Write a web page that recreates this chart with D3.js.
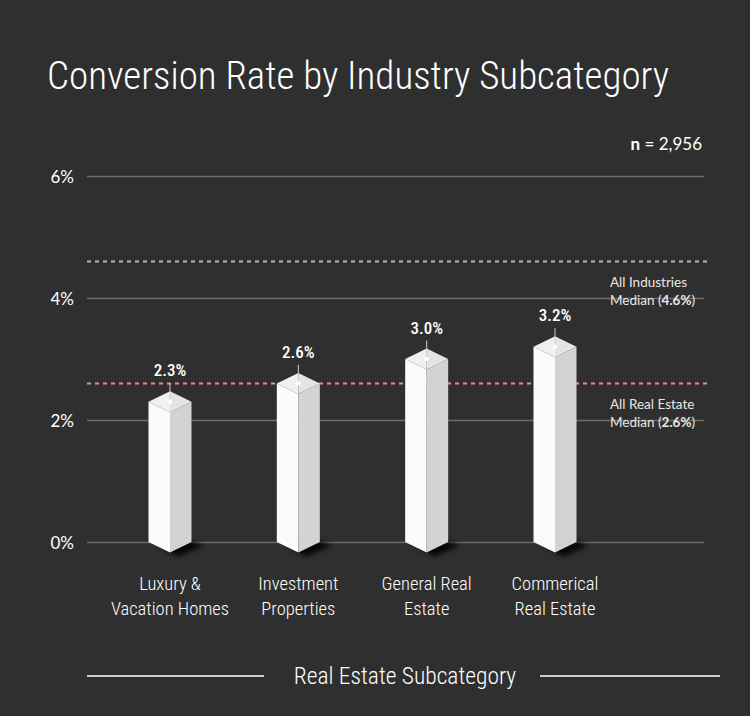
<!DOCTYPE html>
<html>
<head>
<meta charset="utf-8">
<script src="https://cdn.jsdelivr.net/npm/d3@7"></script>
<style>
  body { margin: 0; background: #2f2f2f; }
  svg { display: block; }
</style>
</head>
<body>
<svg id="chart"></svg>
<script>
// data
var categories = ["Luxury & Vacation Homes", "Investment Properties", "General Real Estate", "Commerical Real Estate"]
var catLines = [["Luxury &", "Vacation Homes"], ["Investment", "Properties"], ["General Real", "Estate"], ["Commerical", "Real Estate"]]
var rates = [2.3, 2.6, 3.0, 3.2]
var yTicks = [0, 2, 4, 6]
var medians = [
    {name: "All Industries", value: 4.6},
    {name: "All Real Estate", value: 2.6}
]
var sampleSize = "2,956"

var dims = {
    width: 750,
    height: 716,
    margin: {top: 176, bottom: 174, left: 87, right: 46},
    barHalf: 21.5,
    capHalf: 10.5
}

var condensed = "'Roboto Condensed', 'Liberation Sans Narrow', 'DejaVu Sans Condensed', Roboto, sans-serif"
var plain = "'Source Sans Pro', Lato, 'Open Sans', sans-serif"

var svg = d3.select("#chart")
    .attr("width", dims.width)
    .attr("height", dims.height)

var defs = svg.append("defs")
defs.append("filter").attr("id", "blur")
    .attr("x", "-50%").attr("y", "-50%").attr("width", "200%").attr("height", "200%")
    .append("feGaussianBlur").attr("stdDeviation", 2.5)

var yScale = d3.scaleLinear()
    .domain([0, 6])
    .range([dims.height - dims.margin.bottom, dims.margin.top])

var xScale = d3.scalePoint()
    .domain(categories)
    .range([170, 555])

// title
svg.append("text")
    .attr("x", 47).attr("y", 89)
    .attr("fill", "#ffffff")
    .style("font-family", condensed)
    .style("font-weight", 300)
    .style("font-size", "38px")
    .attr("textLength", 622)
    .attr("lengthAdjust", "spacingAndGlyphs")
    .text("Conversion Rate by Industry Subcategory")

// n label
var nText = svg.append("text")
    .attr("x", 702).attr("y", 150)
    .attr("text-anchor", "end")
    .attr("fill", "#ffffff")
    .style("font-family", plain)
    .style("font-size", "17px")
nText.append("tspan").style("font-weight", 700).text("n")
nText.append("tspan").text(" = " + sampleSize)

// grid + y axis
var yAxisGen = d3.axisLeft(yScale)
    .tickValues(yTicks)
    .tickFormat(d => d + "%")
    .tickSize(-(dims.width - dims.margin.left - dims.margin.right))
    .tickPadding(13)

var yAxis = svg.append("g")
    .attr("transform", `translate(${dims.margin.left},0)`)
    .call(yAxisGen)
yAxis.select(".domain").remove()
yAxis.selectAll("line").attr("stroke", "#6b6b6b").attr("stroke-width", 1.5)
yAxis.selectAll("text")
    .attr("fill", "#ffffff")
    .attr("dy", "0.4em")
    .style("font-family", plain)
    .style("font-size", "17px")

// median lines
var medColors = ["#b8b8b8", "#f28b8b"]
svg.append("g").selectAll("line")
    .data(medians)
    .enter()
    .append("line")
    .attr("x1", dims.margin.left)
    .attr("x2", 707)
    .attr("y1", d => yScale(d.value))
    .attr("y2", d => yScale(d.value))
    .attr("stroke", (d, i) => medColors[i])
    .attr("stroke-width", 2)
    .attr("stroke-dasharray", "4 4")

var medLabels = svg.append("g").selectAll("text")
    .data(medians)
    .enter()
    .append("text")
    .attr("x", 610)
    .attr("y", d => yScale(d.value) + 26)
    .attr("fill", "#e8e8e8")
    .style("font-family", plain)
    .style("font-size", "13.5px")
medLabels.append("tspan").text(d => d.name)
var second = medLabels.append("tspan")
    .attr("x", 610).attr("dy", 18)
second.append("tspan").text("Median (")
second.append("tspan").style("font-weight", 700).text(d => d.value + "%")
second.append("tspan").text(")")

// bars
var bars = svg.append("g").selectAll("g")
    .data(rates)
    .enter()
    .append("g")
    .attr("transform", (d, i) => `translate(${xScale(categories[i])},0)`)

var w = dims.barHalf, h = dims.capHalf, y0 = yScale(0)

// shadow
bars.append("path")
    .attr("d", `M${-w + 8},${y0 + 2} L${8},${y0 - h + 6} L${w + 12},${y0 + 3} L${8},${y0 + h + 4} Z`)
    .attr("fill", "#000")
    .attr("opacity", 0.9)
    .attr("filter", "url(#blur)")

// left face
bars.append("path")
    .attr("d", d => `M${-w},${yScale(d)} L0,${yScale(d) + h} L0,${y0 + h} L${-w},${y0} Z`)
    .attr("fill", "#fbfbfb")
// right face
bars.append("path")
    .attr("d", d => `M0,${yScale(d) + h} L${w},${yScale(d)} L${w},${y0} L0,${y0 + h} Z`)
    .attr("fill", "#d3d3d3")
// top
bars.append("path")
    .attr("d", d => `M${-w},${yScale(d)} L0,${yScale(d) - h} L0,${yScale(d) + h} Z`)
    .attr("fill", "#f0f0f0")
bars.append("path")
    .attr("d", d => `M0,${yScale(d) - h} L${w},${yScale(d)} L0,${yScale(d) + h} Z`)
    .attr("fill", "#e4e4e4")

// pointer
bars.append("line")
    .attr("x1", 0).attr("x2", 0)
    .attr("y1", d => yScale(d) - h - 8)
    .attr("y2", d => yScale(d))
    .attr("stroke", "#cfcfcf")
    .attr("stroke-width", 1)
bars.append("circle")
    .attr("cx", 0)
    .attr("cy", d => yScale(d))
    .attr("r", 2.2)
    .attr("fill", "#ffffff")

bars.append("text")
    .attr("x", 0)
    .attr("y", d => yScale(d) - h - 15)
    .attr("text-anchor", "middle")
    .attr("fill", "#ffffff")
    .style("font-family", condensed)
    .style("font-weight", 500)
    .style("font-size", "17px")
    .text(d => d.toFixed(1) + "%")

// x labels
var xLabels = svg.append("g").selectAll("text")
    .data(catLines)
    .enter()
    .append("text")
    .attr("x", (d, i) => xScale(categories[i]))
    .attr("y", 590)
    .attr("text-anchor", "middle")
    .attr("fill", "#ffffff")
    .style("font-family", condensed)
    .style("font-weight", 300)
    .style("font-size", "18.5px")
xLabels.selectAll("tspan")
    .data(d => d)
    .enter()
    .append("tspan")
    .attr("x", function() { return this.parentNode.getAttribute("x") })
    .attr("dy", (d, i) => i === 0 ? 0 : 25)
    .text(d => d)

// x title
svg.append("text")
    .attr("x", 405).attr("y", 684)
    .attr("text-anchor", "middle")
    .attr("fill", "#ffffff")
    .style("font-family", condensed)
    .style("font-weight", 300)
    .style("font-size", "23.5px")
    .text("Real Estate Subcategory")
svg.append("line")
    .attr("x1", 87).attr("x2", 264).attr("y1", 676).attr("y2", 676)
    .attr("stroke", "#cccccc").attr("stroke-width", 2)
svg.append("line")
    .attr("x1", 540).attr("x2", 720).attr("y1", 676).attr("y2", 676)
    .attr("stroke", "#cccccc").attr("stroke-width", 2)
</script>
</body>
</html>
